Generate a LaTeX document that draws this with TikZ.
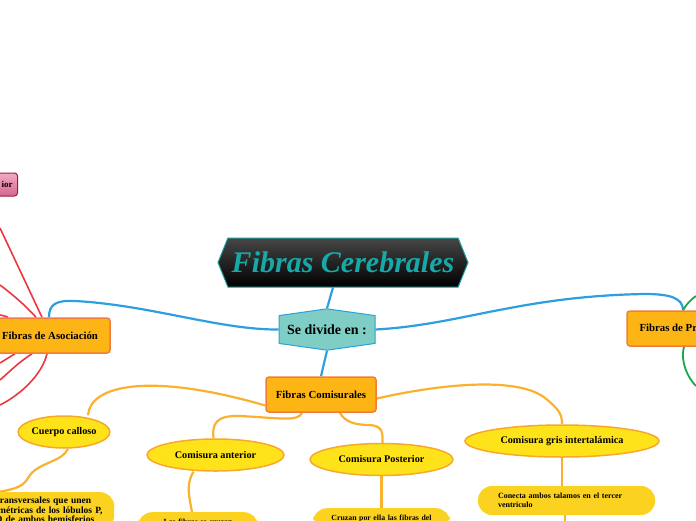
\documentclass[tikz,border=0pt]{standalone}
\usepackage{fontspec}
\setmainfont{Liberation Serif}
\usepackage{xcolor}
\usetikzlibrary{shapes.geometric,shapes.symbols,positioning,calc,backgrounds}

\definecolor{tealtxt}{HTML}{17A9A8}
\definecolor{tealborde}{HTML}{1C9C9C}
\definecolor{tealfondo}{HTML}{7FCEC5}
\definecolor{linazul}{HTML}{2C9FE0}
\definecolor{linnaranja}{HTML}{FAB12E}
\definecolor{linrojo}{HTML}{E9383F}
\definecolor{linverde}{HTML}{16A84C}
\definecolor{ramafondo}{HTML}{FDB515}
\definecolor{ramaborde}{HTML}{F07C3E}
\definecolor{subfondo}{HTML}{FFE31A}
\definecolor{subborde}{HTML}{F7A82A}
\definecolor{notafondo}{HTML}{FBD21F}
\definecolor{rosa1}{HTML}{F2A9C6}
\definecolor{rosa2}{HTML}{D5658F}
\definecolor{rosaborde}{HTML}{9E1F32}

\begin{document}
\begin{tikzpicture}[x=1pt,y=-1pt,
	rama/.style={draw=ramaborde, line width=1.5pt, fill=ramafondo, rounded corners=3pt, minimum height=35pt, font=\bfseries\fontsize{10.8}{12}\selectfont},
	sub/.style={ellipse, draw=subborde, line width=1.5pt, fill=subfondo, minimum height=32pt, inner sep=0pt, font=\bfseries\fontsize{10.2}{12}\selectfont},
	nota/.style={fill=notafondo, rounded corners=14pt, align=left, inner xsep=7pt, font=\bfseries\fontsize{7.8}{9}\selectfont},
	azul/.style={draw=linazul, line width=2.2pt},
	naranja/.style={draw=linnaranja, line width=2.2pt},
	rojo/.style={draw=linrojo, line width=1.6pt},
	verde/.style={draw=linverde, line width=1.8pt}]
		\useasboundingbox (0,0) rectangle (696,520);

		% centro
		\node[signal, signal to=west and east, signal pointer angle=136, draw=tealborde, line width=1pt, top color=gray!55!black, bottom color=black, minimum width=250pt, minimum height=49pt, text=tealtxt, font=\bfseries\itshape\fontsize{30}{32}\selectfont] (titulo) at (343,262.5) {Fibras Cerebrales};
		\node[signal, signal to=north and south, signal pointer angle=164, draw=linazul, line width=1pt, fill=tealfondo, minimum width=96pt, minimum height=40pt, font=\bfseries\fontsize{14}{16}\selectfont] (divide) at (327,329.5) {Se divide en :};

		% ramas
		\node[rama, minimum width=120pt] (asoc) at (50,335.5) {Fibras de Asociación};
		\node[rama, minimum width=110pt] (comis) at (321,394.5) {Fibras Comisurales};
		\node[rama, minimum width=122pt] (proy) at (688,328.5) {Fibras de Proyección};
		\node[draw=rosaborde, line width=1pt, top color=rosa1, bottom color=rosa2, rounded corners=3pt, text width=50pt, align=right, minimum height=23pt, inner xsep=5pt, anchor=east, font=\bfseries\fontsize{9}{11}\selectfont] (rosa) at (18,184.5) {ior};

		% comisurales
		\node[sub, minimum width=88pt] (calloso) at (64,432) {Cuerpo calloso};
		\node[sub, minimum width=137pt] (anterior) at (215.5,455) {Comisura anterior};
		\node[sub, minimum width=143pt] (posterior) at (381.5,459.5) {Comisura Posterior};
		\node[sub, minimum width=194pt] (gris) at (562,441) {Comisura gris intertalámica};

		\node[nota, anchor=north west, text width=140pt, inner ysep=5pt, font=\bfseries\fontsize{9.5}{9.3}\selectfont] (notacall) at (-40,492) {Fibras transversales que unen\\áreas simétricas de los lóbulos P,\\F, T y O de ambos hemisferios};
		\node[nota, anchor=north, text width=106pt, align=center, inner ysep=7pt] (notaant) at (198,512) {Las fibras se cruzan};
		\node[nota, anchor=north, text width=123pt, align=center, inner ysep=6.5pt] (notapost) at (381.5,508) {Cruzan por ella las fibras del};
		\node[nota, minimum width=177pt, minimum height=29pt, text width=137pt, inner xsep=20pt, font=\bfseries\fontsize{8}{9.5}\selectfont] (notagris) at (566.5,500.5) {Conecta ambos talamos en el tercer\\ventriculo};

		\coordinate (r1) at (0,228);
		\coordinate (r2) at (0,285);
		\coordinate (r3) at (0,315);
		\coordinate (r4) at (0,363);
		\coordinate (r5) at (0,380);
		\coordinate (r6) at (0,405);
		\coordinate (g1) at (696,296);
		\coordinate (g2) at (696,386);
		\coordinate (gfin) at (565,525);

		\begin{scope}[on background layer]
		\draw[azul] (titulo.south) ++(-10,0) -- (divide.north);
		\draw[azul] (divide.south) -- (comis.north);
		\draw[azul] (divide.west) .. controls (220,330) and (150,305) .. (75,301) .. controls (55,300) and (49,305) .. ([xshift=-1pt]asoc.north);
		\draw[azul] (divide.east) .. controls (460,325) and (520,296) .. (645,294) .. controls (670,294) and (683,298) .. ([xshift=-5pt]proy.north);

		\draw[rojo] ([xshift=-8pt]asoc.north) -- (r1);
		\draw[rojo] ([xshift=-14pt]asoc.north) .. controls (25,305) and (12,294) .. (r2);
		\draw[rojo] ([xshift=-42pt]asoc.north) .. controls (5,316) .. (r3);
		\draw[rojo] ([xshift=-35pt]asoc.south) -- (r4);
		\draw[rojo] ([xshift=-18pt]asoc.south) .. controls (20,362) .. (r5);
		\draw[rojo] ([xshift=-3pt]asoc.south) .. controls (42,375) and (20,395) .. (r6);

		\draw[verde] ([xshift=-5pt]proy.north) .. controls (686,305) and (690,300) .. (g1);
		\draw[verde] ([xshift=-4pt]proy.south) .. controls (680,362) and (688,378) .. (g2);

		\draw[naranja] ([yshift=-11pt]comis.west) .. controls (150,372) and (90,385) .. ([xshift=24pt]calloso.north);
		\draw[naranja] ([xshift=-19pt]comis.south) .. controls (298,422) and (280,418) .. (240,416) .. controls (215,415) and (212,425) .. ([xshift=-2pt]anterior.north);
		\draw[naranja] ([xshift=19pt]comis.south) .. controls (345,422) and (355,425) .. (370,425) .. controls (382,426) and (383,432) .. ([xshift=1pt]posterior.north);
		\draw[naranja] ([yshift=-4pt]comis.east) .. controls (450,382) and (520,378) .. (545,398) .. controls (560,410) and (562,415) .. (gris.north);

		\draw[naranja] ([xshift=4pt]calloso.south) .. controls (62,462) and (40,462) .. (30,475) .. controls (25,482) and (25,488) .. ([xshift=-40pt]notacall.north);
		\draw[naranja] ([xshift=-22pt]anterior.south) .. controls (185,485) and (190,500) .. ([xshift=-6pt]notaant.north);
		\draw[naranja] (posterior.south) -- (notapost.north);
		\draw[naranja] (gris.south) -- ([xshift=-4.5pt]notagris.north);
		\draw[naranja] ([xshift=-1.5pt]notagris.south) -- (gfin);
		\end{scope}
	\end{tikzpicture}
\end{document}
